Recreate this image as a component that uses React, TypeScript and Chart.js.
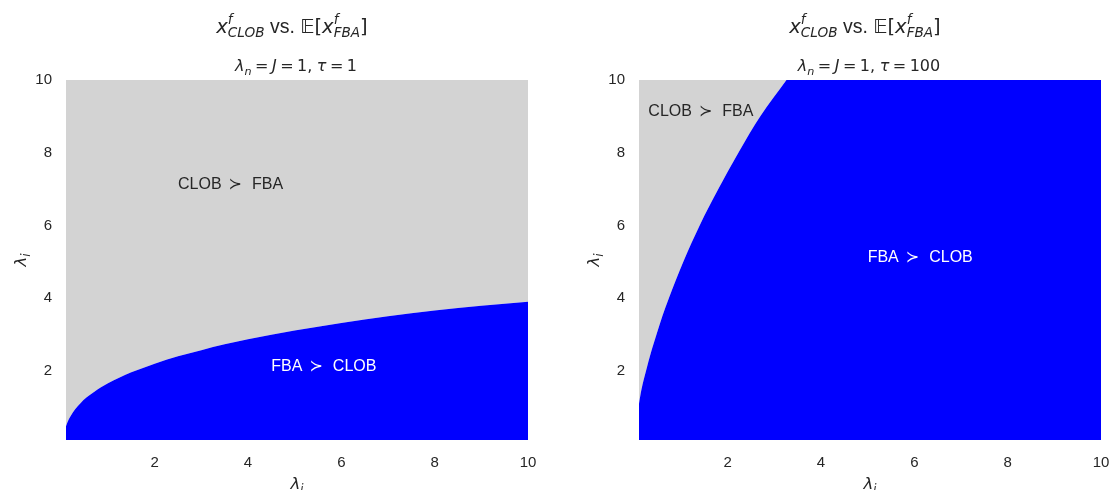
import React, { useEffect, useRef } from 'react';
import { Chart, registerables } from 'chart.js';

Chart.register(...registerables);

// ---- data ----
const AXIS_MIN = 0.1;
const AXIS_MAX = 10;
const TICKS = [2, 4, 6, 8, 10];

// left panel (tau = 1): boundary between the regions
const LEFT_X = [0.1, 0.15, 0.2, 0.3, 0.4, 0.55, 0.7, 0.85, 1.0, 1.25, 1.5, 2.0, 2.5, 3.0, 3.5, 4.0, 5.0, 6.0, 7.0, 8.0, 9.0, 10];
const LEFT_Y = [0.48, 0.64, 0.76, 0.95, 1.1, 1.28, 1.42, 1.55, 1.66, 1.82, 1.96, 2.2, 2.4, 2.57, 2.73, 2.87, 3.11, 3.32, 3.5, 3.66, 3.79, 3.9];

// right panel (tau = 100)
const RIGHT_X = [0.1, 0.155, 0.25, 0.355, 0.475, 0.6, 0.74, 1.05, 1.4, 1.8, 2.23, 2.7, 3.26, 3.6, 10];
const RIGHT_Y = [1.1, 1.5, 2.0, 2.5, 3.0, 3.5, 4.0, 5.0, 6.0, 7.0, 8.0, 9.0, 10, 10.6, 10.6];

const LEFT_NOTES = [
  { a: 'CLOB', b: 'FBA', x: 2.5, y: 7, color: '#262626' },
  { a: 'FBA', b: 'CLOB', x: 4.5, y: 2, color: '#ffffff' },
];
const RIGHT_NOTES = [
  { a: 'CLOB', b: 'FBA', x: 0.3, y: 9, color: '#262626' },
  { a: 'FBA', b: 'CLOB', x: 5, y: 5, color: '#ffffff' },
];

const LEFT_TAU = '1';
const RIGHT_TAU = '100';

const BLUE = '#0000ff';
const GRAY = '#d3d3d3';
const TEXT = '#262626';

// ---- rich text helpers ----
const MI = (s: number) => `italic ${s}px "DejaVu Sans"`;
const MR = (s: number) => `${s}px "DejaVu Sans"`;
const SANS = (s: number) => `${s}px "Liberation Sans", Arial, sans-serif`;

type Seg = { t?: string; f?: string; dy?: number; gap?: number; sup?: Seg; sub?: Seg };

function segWidth(ctx: CanvasRenderingContext2D, s: Seg): number {
  if (s.gap !== undefined) return s.gap;
  if (s.sup || s.sub) {
    let a = 0, b = 0;
    if (s.sup) { ctx.font = s.sup.f!; a = ctx.measureText(s.sup.t!).width; }
    if (s.sub) { ctx.font = s.sub.f!; b = ctx.measureText(s.sub.t!).width; }
    return Math.max(a, b);
  }
  ctx.font = s.f!;
  return ctx.measureText(s.t!).width;
}

function drawRich(ctx: CanvasRenderingContext2D, segs: Seg[], x: number, y: number, align: 'left' | 'center', color: string) {
  ctx.save();
  ctx.fillStyle = color;
  ctx.textBaseline = 'alphabetic';
  ctx.textAlign = 'left';
  let total = 0;
  for (const s of segs) total += segWidth(ctx, s);
  let cx = align === 'center' ? x - total / 2 : x;
  for (const s of segs) {
    const w = segWidth(ctx, s);
    if (s.gap === undefined) {
      if (s.sup || s.sub) {
        if (s.sup) { ctx.font = s.sup.f!; ctx.fillText(s.sup.t!, cx, y + (s.sup.dy || 0)); }
        if (s.sub) { ctx.font = s.sub.f!; ctx.fillText(s.sub.t!, cx, y + (s.sub.dy || 0)); }
      } else {
        ctx.font = s.f!;
        ctx.fillText(s.t!, cx, y + (s.dy || 0));
      }
    }
    cx += w;
  }
  ctx.restore();
}

function titleSegs(): Seg[] {
  const T = 19.5, S = 13.6;
  return [
    { t: 'x', f: MI(T) },
    { sup: { t: 'f', f: MI(S), dy: -9 }, sub: { t: 'CLOB', f: MI(S), dy: 4 } },
    { t: ' vs. ', f: SANS(T) },
    { t: '\u{1D53C}', f: MR(T) },
    { t: '[', f: MR(T) },
    { t: 'x', f: MI(T) },
    { sup: { t: 'f', f: MI(S), dy: -9 }, sub: { t: 'FBA', f: MI(S), dy: 4 } },
    { t: ']', f: MR(T) },
  ];
}

function subtitleSegs(tau: string): Seg[] {
  const T = 16, S = 11.2, g = 3.5;
  return [
    { t: 'λ', f: MI(T) },
    { t: 'n', f: MI(S), dy: 3.5 },
    { gap: g }, { t: '=', f: MR(T) }, { gap: g },
    { t: 'J', f: MI(T) },
    { gap: g }, { t: '=', f: MR(T) }, { gap: g },
    { t: '1', f: MR(T) },
    { t: ',', f: MR(T) },
    { gap: 4.5 },
    { t: 'τ', f: MI(T) },
    { gap: g }, { t: '=', f: MR(T) }, { gap: g },
    { t: tau, f: MR(T) },
  ];
}

function labelSegs(): Seg[] {
  return [
    { t: 'λ', f: MI(16.5) },
    { t: 'i', f: MI(11.5), dy: 3.5 },
  ];
}

function noteSegs(a: string, b: string): Seg[] {
  return [
    { t: a, f: SANS(16) },
    { gap: 7 },
    { t: '≻', f: MR(16) },
    { gap: 10 },
    { t: b, f: SANS(16) },
  ];
}

function makeTextPlugin(tau: string, notes: typeof LEFT_NOTES) {
  return {
    id: 'richText',
    afterDraw(chart: any) {
      const ctx: CanvasRenderingContext2D = chart.ctx;
      const area = chart.chartArea;
      const xs = chart.scales.x;
      const ys = chart.scales.y;
      const cx = (area.left + area.right) / 2;
      drawRich(ctx, titleSegs(), cx - 5, 33, 'center', TEXT);
      drawRich(ctx, subtitleSegs(tau), cx - 1, 71, 'center', TEXT);
      drawRich(ctx, labelSegs(), cx, 489, 'center', TEXT);
      ctx.save();
      ctx.translate(area.left - 40, (area.top + area.bottom) / 2);
      ctx.rotate(-Math.PI / 2);
      drawRich(ctx, labelSegs(), 0, 0, 'center', TEXT);
      ctx.restore();
      for (const n of notes) {
        drawRich(ctx, noteSegs(n.a, n.b), xs.getPixelForValue(n.x), ys.getPixelForValue(n.y), 'left', n.color);
      }
    },
  };
}

function buildConfig(xsData: number[], ysData: number[], yAxisWidth: number, rightPad: number, tau: string, notes: typeof LEFT_NOTES): any {
  const pts = xsData.map((x, i) => ({ x, y: ysData[i] }));
  const common = {
    borderColor: 'rgba(0,0,0,0)',
    borderWidth: 0,
    pointRadius: 0,
    pointHoverRadius: 0,
    cubicInterpolationMode: 'monotone',
  };
  const tickFont = { family: '"Liberation Sans", Arial, sans-serif', size: 15 };
  return {
    type: 'line',
    data: {
      datasets: [
        { ...common, data: pts, fill: 'start', backgroundColor: BLUE },
        { ...common, data: pts, fill: 'end', backgroundColor: GRAY },
      ],
    },
    options: {
      responsive: false,
      animation: false,
      events: [],
      layout: { padding: { top: 80, right: rightPad, left: 0, bottom: 0 } },
      plugins: { legend: { display: false }, tooltip: { enabled: false }, title: { display: false } },
      scales: {
        x: {
          type: 'linear',
          min: AXIS_MIN,
          max: AXIS_MAX,
          grid: { display: false, drawTicks: false },
          border: { display: false },
          ticks: { padding: 14, font: tickFont, color: TEXT, maxRotation: 0, autoSkip: false },
          afterBuildTicks: (s: any) => { s.ticks = TICKS.map((v) => ({ value: v })); },
          afterFit: (s: any) => { s.height = 50; },
        },
        y: {
          type: 'linear',
          min: AXIS_MIN,
          max: AXIS_MAX,
          grid: { display: false, drawTicks: false },
          border: { display: false },
          ticks: { padding: 14, font: tickFont, color: TEXT, autoSkip: false },
          afterBuildTicks: (s: any) => { s.ticks = TICKS.map((v) => ({ value: v })); },
          afterFit: (s: any) => { s.width = yAxisWidth; },
        },
      },
    },
    plugins: [makeTextPlugin(tau, notes)],
  };
}

export default function App() {
  const leftRef = useRef<HTMLCanvasElement>(null);
  const rightRef = useRef<HTMLCanvasElement>(null);

  useEffect(() => {
    const c1 = new Chart(leftRef.current!, buildConfig(LEFT_X, LEFT_Y, 66, 28, LEFT_TAU, LEFT_NOTES));
    const c2 = new Chart(rightRef.current!, buildConfig(RIGHT_X, RIGHT_Y, 83, 55, RIGHT_TAU, RIGHT_NOTES));
    return () => { c1.destroy(); c2.destroy(); };
  }, []);

  return (
    <div style={{ position: 'absolute', left: 0, top: 0, width: 1113, height: 490, background: '#ffffff', overflow: 'hidden' }}>
      <canvas ref={leftRef} width={556} height={490} style={{ position: 'absolute', left: 0, top: 0 }} />
      <canvas ref={rightRef} width={600} height={490} style={{ position: 'absolute', left: 556, top: 0 }} />
    </div>
  );
}
